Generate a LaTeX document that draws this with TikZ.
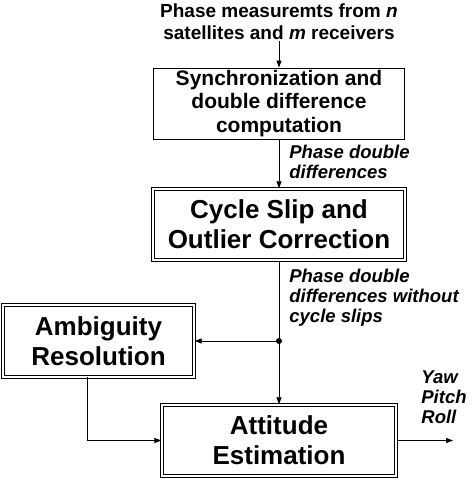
\documentclass[tikz,border=0pt]{standalone}
\usepackage{fontspec}
\setmainfont{Liberation Sans}
\usetikzlibrary{positioning,arrows.meta}

\begin{document}
\begin{tikzpicture}[x=1pt,y=1pt,>={Triangle[length=7pt,width=5pt]},line width=0.8pt,
  box/.style={draw,rectangle,align=center,inner sep=0pt,font=\bfseries\fontsize{21}{23.5}\selectfont},
  dbox/.style={box,double,double distance=1.8pt,line width=1pt,minimum height=71.4pt,font=\bfseries\fontsize{26}{30}\selectfont},
  note/.style={align=left,inner sep=0pt,font=\bfseries\itshape\fontsize{18.5}{20}\selectfont}]
\useasboundingbox (0,0) rectangle (474,481);
\node (meas) [align=center,inner sep=1pt,font=\bfseries\fontsize{19}{22}\selectfont] at (279,459) {Phase measuremts from \textit{n}\\satellites and \textit{m} receivers};
\node (sync) [box,minimum width=251pt,minimum height=71pt] at (279,377.5) {Synchronization and\\double difference\\computation};
\node (csoc) [dbox,minimum width=251.4pt] at (279,256.5) {Cycle Slip and\\Outlier Correction};
\node (ambr) [dbox,minimum width=191.4pt] at (98.5,140) {Ambiguity\\Resolution};
\node (atte) [dbox,minimum width=234.4pt] at (279,40.5) {Attitude\\Estimation};
\coordinate (split) at (279,140);
\coordinate (out) at (453,40.5);
\node (dd) [note,anchor=west] at (289,319) {Phase double\\differences};
\node (ddc) [note,anchor=west] at (289,183) {Phase double\\differences without\\cycle slips};
\node (ypr) [note,anchor=west] at (421,84) {Yaw\\Pitch\\Roll};
\draw[->] (meas) -- (sync);
\draw[->] (sync) -- (csoc);
\draw (csoc) -- (split);
\draw[->] (split) -- (atte);
\draw[->] (split) -- (ambr);
\fill (split) circle (3pt);
\draw[->] ([xshift=-11.5pt]ambr.south) |- (atte.west);
\draw[->] (atte) -- (out);
\end{tikzpicture}
\end{document}
